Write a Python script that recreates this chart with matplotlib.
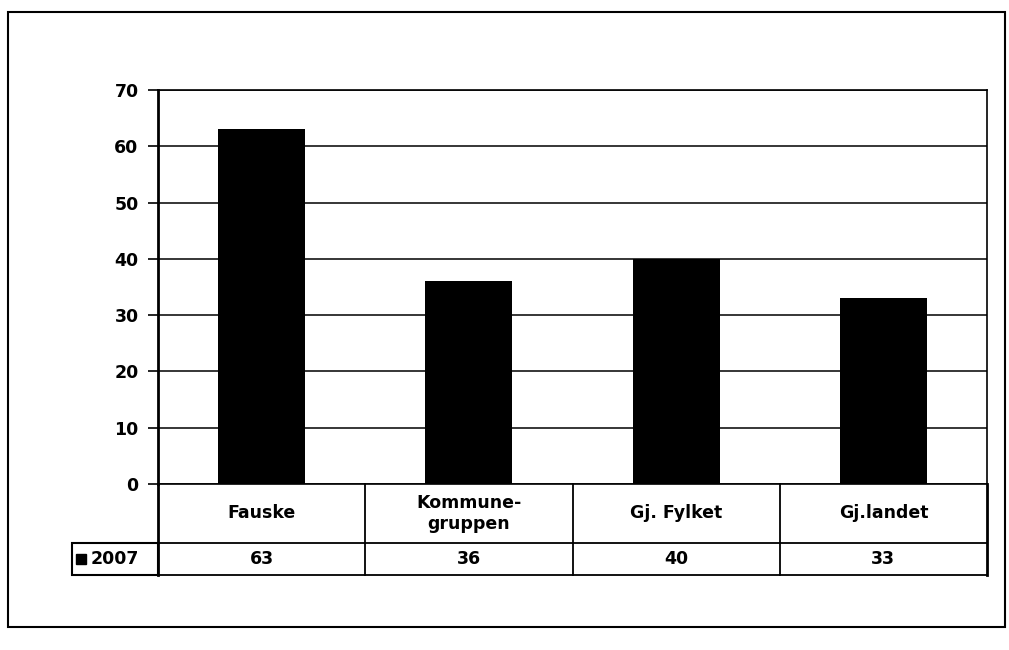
import matplotlib
matplotlib.use("Agg")
import matplotlib.pyplot as plt
from matplotlib.patches import Rectangle
from matplotlib.lines import Line2D
import matplotlib.transforms as mtransforms

categories = ["Fauske", "Kommune-\ngruppen", "Gj. Fylket", "Gj.landet"]
values_2007 = [63, 36, 40, 33]
table_labels = ["63", "36", "40", "33"]
series_name = "2007"
yticks = [0, 10, 20, 30, 40, 50, 60, 70]

plt.rcParams['font.family'] = ['DejaVu Sans']
FS = 12.5

W, H = 1009, 650
fig = plt.figure(figsize=(W / 100, H / 100), dpi=100)

def fx(px):
    return px / W

def fy(py):
    return 1 - py / H

L, R, T, B = 158, 987, 90, 484
ax = fig.add_axes([fx(L), fy(B), fx(R) - fx(L), fy(T) - fy(B)])

n = len(categories)
x = list(range(n))
ax.bar(x, values_2007, width=0.42, color="black", zorder=3)
ax.set_xlim(-0.5, n - 0.5)
ax.set_ylim(0, 70)
ax.set_yticks(yticks)
ax.set_yticklabels([str(t) for t in yticks], fontsize=FS, fontweight="bold")
ax.set_xticks([])
ax.yaxis.grid(True, color="black", linewidth=1.1, zorder=0)
ax.tick_params(axis="y", direction="out", length=7, width=1.2, pad=7)
for side in ["top", "right", "bottom"]:
    ax.spines[side].set_linewidth(1.2)
ax.spines["left"].set_linewidth(2)

# data table
row1 = (543 - B) / (B - T)
row2 = (575 - B) / (B - T)
trans = mtransforms.blended_transform_factory(ax.transData, ax.transAxes)
lw = 1.3
for yy in [-row1, -row2]:
    ax.add_line(Line2D([-0.5, n - 0.5], [yy, yy], transform=trans, color="black",
                       lw=lw, clip_on=False))
for b in range(n + 1):
    xb = b - 0.5
    ax.add_line(Line2D([xb, xb], [0, -row2], transform=trans, color="black",
                       lw=2 if b in (0, n) else lw, clip_on=False))
for i, (c, v) in enumerate(zip(categories, table_labels)):
    ax.text(i, -row1 / 2, c, transform=trans, ha="center", va="center",
            fontsize=FS, fontweight="bold", linespacing=1.25)
    ax.text(i, -(row1 + row2) / 2, v, transform=trans, ha="center", va="center",
            fontsize=FS, fontweight="bold")

# legend cell
fig.add_artist(Rectangle((fx(72), fy(575)), fx(L) - fx(72), fy(543) - fy(575),
                         fill=False, edgecolor="black", lw=1.5,
                         transform=fig.transFigure))
fig.add_artist(Rectangle((fx(76), fy(564)), fx(10), fy(554) - fy(564),
                         facecolor="black", edgecolor="black",
                         transform=fig.transFigure))
fig.text(fx(91), fy(559), series_name, ha="left", va="center",
         fontsize=FS, fontweight="bold")

# outer border
fig.add_artist(Rectangle((fx(8), fy(627)), fx(1005) - fx(8), fy(12) - fy(627),
                         fill=False, edgecolor="black", lw=1.5,
                         transform=fig.transFigure))

fig.savefig("out.png", dpi=100)
